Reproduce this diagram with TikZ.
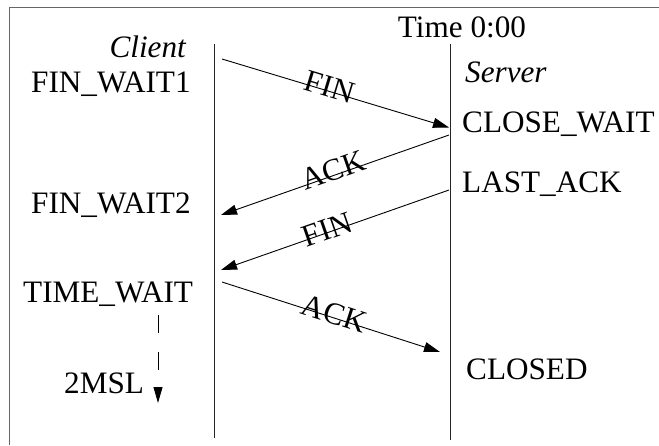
\documentclass[tikz,border=0pt]{standalone}
\usepackage{fontspec}
\setmainfont{Liberation Serif}
\usetikzlibrary{arrows.meta}
\begin{document}
\begin{tikzpicture}[x=1pt,y=-1pt,
  txt/.style={font=\fontsize{31.2}{36}\selectfont, inner sep=0pt},
  itx/.style={txt, font=\fontsize{31.2}{36}\selectfont\itshape},
  life/.style={draw=black!85, line width=1pt},
  frame/.style={draw=black!60, line width=1.3pt},
  msg/.style={draw=black, line width=0.9pt, -{Triangle[length=16pt,width=10pt]}},
  lbl/.style={txt, sloped, anchor=center}]
  \useasboundingbox (0,0) rectangle (659,445);
  % frame
  \draw[frame] (9.5,445) -- (9.5,7.5) -- (659,7.5);
  % lifelines
  \coordinate (ctop) at (214,44);  \coordinate (cbot) at (214,438);
  \coordinate (stop) at (450,44);  \coordinate (sbot) at (450,440);
  \draw[life] (ctop) -- (cbot);
  \draw[life] (stop) -- (sbot);
  % headings
  \node[txt, anchor=base] (time) at (462,37) {Time 0:00};
  \node[itx, anchor=base east] (client) at (186,57) {Client};
  \node[itx, anchor=base west] (server) at (465,82) {Server};
  % client states
  \node[txt, anchor=base west] (fw1) at (31,92) {FIN\_WAIT1};
  \node[txt, anchor=base west] (fw2) at (31,213) {FIN\_WAIT2};
  \node[txt, anchor=base west] (tw) at (23,302) {TIME\_WAIT};
  \node[txt, anchor=base west] (msl) at (64,393) {2MSL};
  % server states
  \node[txt, anchor=base west] (cw) at (462,132) {CLOSE\_WAIT};
  \node[txt, anchor=base west] (la) at (462,192) {LAST\_ACK};
  \node[txt, anchor=base west] (cl) at (466,379) {CLOSED};
  % message end points
  \coordinate (m1a) at (222,59);  \coordinate (m1b) at (449,127.5);
  \coordinate (m2a) at (449,135); \coordinate (m2b) at (221,215);
  \coordinate (m3a) at (449,190); \coordinate (m3b) at (221,270);
  \coordinate (m4a) at (222,282); \coordinate (m4b) at (440,352);
  % messages
  \draw[msg] (m1a) -- node[lbl, pos=0.47, yshift=4pt] {FIN} (m1b);
  \draw[msg] (m2a) -- node[lbl, pos=0.5, yshift=5pt] {ACK} (m2b);
  \draw[msg] (m3a) -- node[lbl, pos=0.53, yshift=3pt] {FIN} (m3b);
  \draw[msg] (m4a) -- node[lbl, pos=0.51, yshift=4pt] {ACK} (m4b);
  % 2MSL timer
  \coordinate (t1) at (158,315); \coordinate (t2) at (158,403);
  \draw[draw=black, line width=0.9pt, dash pattern=on 18pt off 19pt,
        -{Triangle[length=16pt,width=9pt]}] (t1) -- (t2);
\end{tikzpicture}
\end{document}
